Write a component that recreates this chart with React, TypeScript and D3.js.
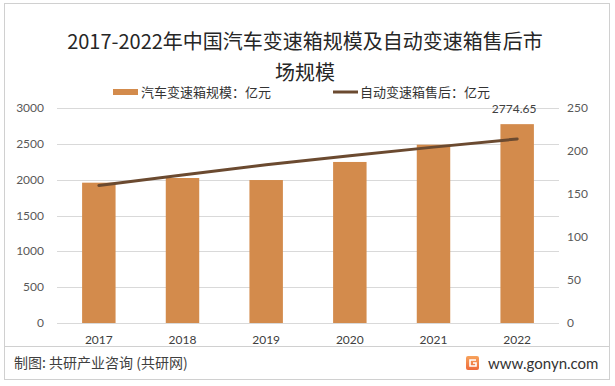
import React from 'react';
import * as d3 from 'd3';

const years = ['2017', '2018', '2019', '2020', '2021', '2022'];
const gearboxScale = [1958, 2023, 1995, 2247, 2488, 2774.65];
const afterMarket = [160, 172, 184, 194.5, 204.5, 214];
const leftTicks = [0, 500, 1000, 1500, 2000, 2500, 3000];
const rightTicks = [0, 50, 100, 150, 200, 250];

const W = 615;
const H = 386;
const barColor = '#D38B4C';
const lineColor = '#6B4A30';
const cjk = '"Noto Sans CJK SC", "Noto Sans", sans-serif';
const num = 'Lato, "Noto Sans", sans-serif';

const App = () => {
  const x = d3
    .scaleBand<string>()
    .domain(years)
    .range([57, 559])
    .paddingInner(0.6)
    .paddingOuter(0.3);
  const yL = d3.scaleLinear().domain([0, 3000]).range([323, 108]);
  const yR = d3.scaleLinear().domain([0, 250]).range([323, 108]);
  const line = d3
    .line<number>()
    .x((d, i) => x(years[i])! + x.bandwidth() / 2)
    .y(d => yR(d));

  const last = years.length - 1;

  return (
    <svg
      width={W}
      height={H}
      style={{ position: 'absolute', left: 0, top: 0, background: '#fff' }}>
      <rect x={4.5} y={3.5} width={605} height={376} fill="#fff" stroke="#D0D0D0" />
      <text x={305} y={49} textAnchor="middle" fontFamily={cjk} fontSize={20} fill="#262626">
        2017-2022年中国汽车变速箱规模及自动变速箱售后市
      </text>
      <text x={305} y={80} textAnchor="middle" fontFamily={cjk} fontSize={20} fill="#262626">
        场规模
      </text>

      {/* legend */}
      <rect x={113} y={89} width={25} height={6} fill={barColor} />
      <text x={141} y={97} fontFamily={cjk} fontSize={13} fill="#333">
        汽车变速箱规模：亿元
      </text>
      <line x1={333} x2={358} y1={92} y2={92} stroke={lineColor} strokeWidth={3} />
      <text x={360} y={97} fontFamily={cjk} fontSize={13} fill="#333">
        自动变速箱售后：亿元
      </text>

      {leftTicks.map(t => (
        <g key={'l' + t}>
          <line x1={57} x2={559} y1={Math.round(yL(t)) + 0.5} y2={Math.round(yL(t)) + 0.5} stroke="#D9D9D9" />
          <text x={44} y={yL(t) + 4} textAnchor="end" fontFamily={num} fontSize={12} fill="#595959">
            {t}
          </text>
        </g>
      ))}
      {rightTicks.map(t => (
        <text key={'r' + t} x={567} y={yR(t) + 4} fontFamily={num} fontSize={12} fill="#595959">
          {t}
        </text>
      ))}

      {gearboxScale.map((v, i) => (
        <rect
          key={years[i]}
          x={x(years[i])}
          y={yL(v)}
          width={x.bandwidth()}
          height={yL(0) - yL(v)}
          fill={barColor}
        />
      ))}
      <text
        x={x(years[last])! + x.bandwidth() / 2 - 3}
        y={yL(gearboxScale[last]) - 11}
        textAnchor="middle"
        fontFamily={num}
        fontSize={12}
        fill="#404040">
        {gearboxScale[last]}
      </text>

      <path d={line(afterMarket)!} fill="none" stroke={lineColor} strokeWidth={3} strokeLinecap="round" />

      {years.map(y => (
        <text key={'x' + y} x={x(y)! + x.bandwidth() / 2} y={344} textAnchor="middle" fontFamily={num} fontSize={12} fill="#404040">
          {y}
        </text>
      ))}

      <line x1={4} x2={609} y1={346.5} y2={346.5} stroke="#D0D0D0" />
      <text x={14} y={368} fontFamily={cjk} fontSize={14} fill="#404040">
        制图: 共研产业咨询 (共研网)
      </text>

      <defs>
        <linearGradient id="logo" x1="0" y1="0" x2="0" y2="1">
          <stop offset="0" stopColor="#F7A35C" />
          <stop offset="1" stopColor="#EE6A3A" />
        </linearGradient>
      </defs>
      <rect x={466} y={356} width={13} height={14} rx={2} fill="url(#logo)" />
      <path d="M476 360 H470 V366 H476 V363 H473" fill="none" stroke="#fff" strokeWidth={1.6} />
      <text x={488} y={369} fontFamily={num} fontSize={15} fill="#333">
        www.gonyn.com
      </text>
    </svg>
  );
};

export default App;
